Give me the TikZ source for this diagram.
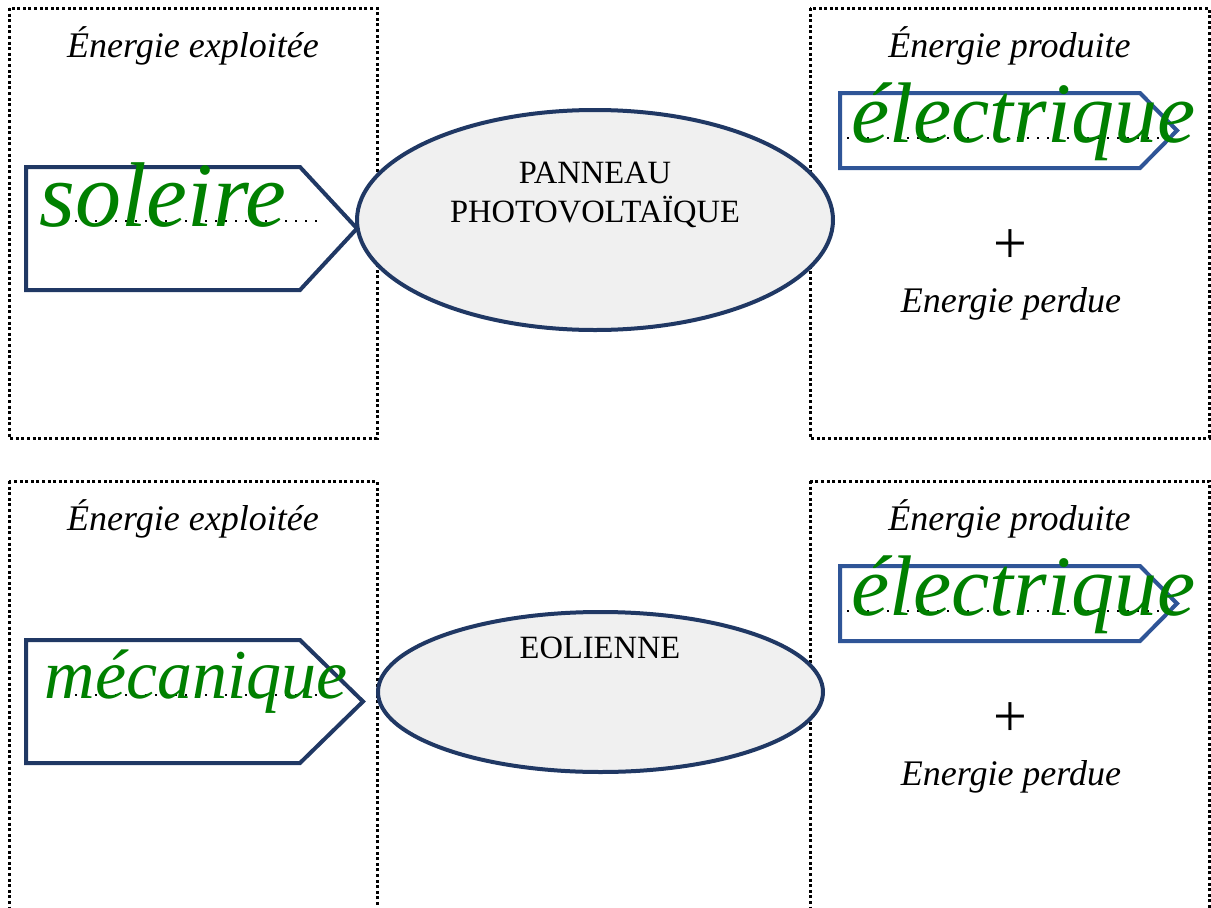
\documentclass[tikz,border=0pt]{standalone}
\usepackage{fontspec}
\setmainfont{Liberation Serif}
\usetikzlibrary{shapes.geometric}
\definecolor{cnavy}{HTML}{203864}
\definecolor{cbleu}{HTML}{2F5597}
\definecolor{cvert}{HTML}{008000}
\definecolor{cgris}{HTML}{F0F0F0}
\tikzset{
  every picture/.style={x=1pt, y=-1pt, line width=3pt},
  cadre/.style={draw=black, line width=3pt, dash pattern=on 3pt off 2.6pt},
  titre/.style={font=\itshape\fontsize{36}{40}\selectfont, anchor=base, inner sep=0pt},
  fleche/.style={draw=#1, fill=white, line width=4pt, line join=miter},
  fleche/.default=cnavy,
  pointille/.style={line width=2.4pt, dash pattern=on 2.4pt off 7.6pt},
  appareil/.style={ellipse, draw=cnavy, fill=cgris, line width=4pt, inner sep=0pt},
  nom/.style={font=\fontsize{32.5}{39}\selectfont, align=center, inner sep=0pt},
  ecrit/.style={text=cvert, font=\itshape\fontsize{#1}{#1}\selectfont, anchor=base west, inner sep=0pt},
}
\newcommand{\cadre}[6]{% nom, x gauche, y haut, x droite, y bas, titre
  \draw[cadre] (#2,#3) rectangle (#4,#5);
  \node[titre] (#1) at ({(#2+#4)/2},#3+49) {#6};
}
\newcommand{\etiquette}[7]{% nom, x gauche, y haut, x coin, x pointe, y bas, couleur
  \draw[fleche=#7] (#2,#3) -- (#4,#3) -- (#5,{(#3+#6)/2}) -- (#4,#6) -- (#2,#6) -- cycle;
  \coordinate (#1) at (#5,{(#3+#6)/2});
}
\newcommand{\sortie}[2]{% suffixe, decalage vertical
  \etiquette{sortie#1}{840}{#2+93}{1140}{1177}{#2+168}{cbleu}
  \draw[pointille] (847,#2+138) -- (1160,#2+138);
  \node[ecrit=86] (elec#1) at (850,#2+142) {électrique};
  \node[font=\fontsize{60}{60}\selectfont] (plus#1) at (1010,#2+247) {+};
  \node[titre] (perdue#1) at (1011,#2+312) {Energie perdue};
}

\begin{document}
\begin{tikzpicture}
  \useasboundingbox (0,0) rectangle (1211,908);
  % panneau photovoltaique
  \cadre{exploiteeA}{9}{8}{377}{438}{Énergie exploitée}
  \cadre{produiteA}{810}{8}{1209}{438}{Énergie produite}
  \etiquette{entreeA}{26}{167}{300}{357}{290}{cnavy}
  \draw[pointille] (65,221) -- (322,221);
  \node[ecrit=92] (soleil) at (38,226) {soleire};
  \node[appareil, minimum width=476pt, minimum height=220pt] (panneau) at (595,220) {};
  \node[nom, anchor=base] (nomA) at (595,222) {PANNEAU\\PHOTOVOLTAÏQUE};
  \sortie{A}{0}
  % eolienne
  \cadre{exploiteeB}{9}{481}{377}{915}{Énergie exploitée}
  \cadre{produiteB}{810}{481}{1209}{915}{Énergie produite}
  \etiquette{entreeB}{26}{640}{300}{363}{763}{cnavy}
  \draw[pointille] (65,695) -- (322,695);
  \node[ecrit=70] (meca) at (43,698) {mécanique};
  \node[appareil, minimum width=445pt, minimum height=160pt] (eolienne) at (600.5,692) {};
  \node[nom, anchor=base] (nomB) at (600,658) {EOLIENNE};
  \sortie{B}{473}
\end{tikzpicture}
\end{document}
